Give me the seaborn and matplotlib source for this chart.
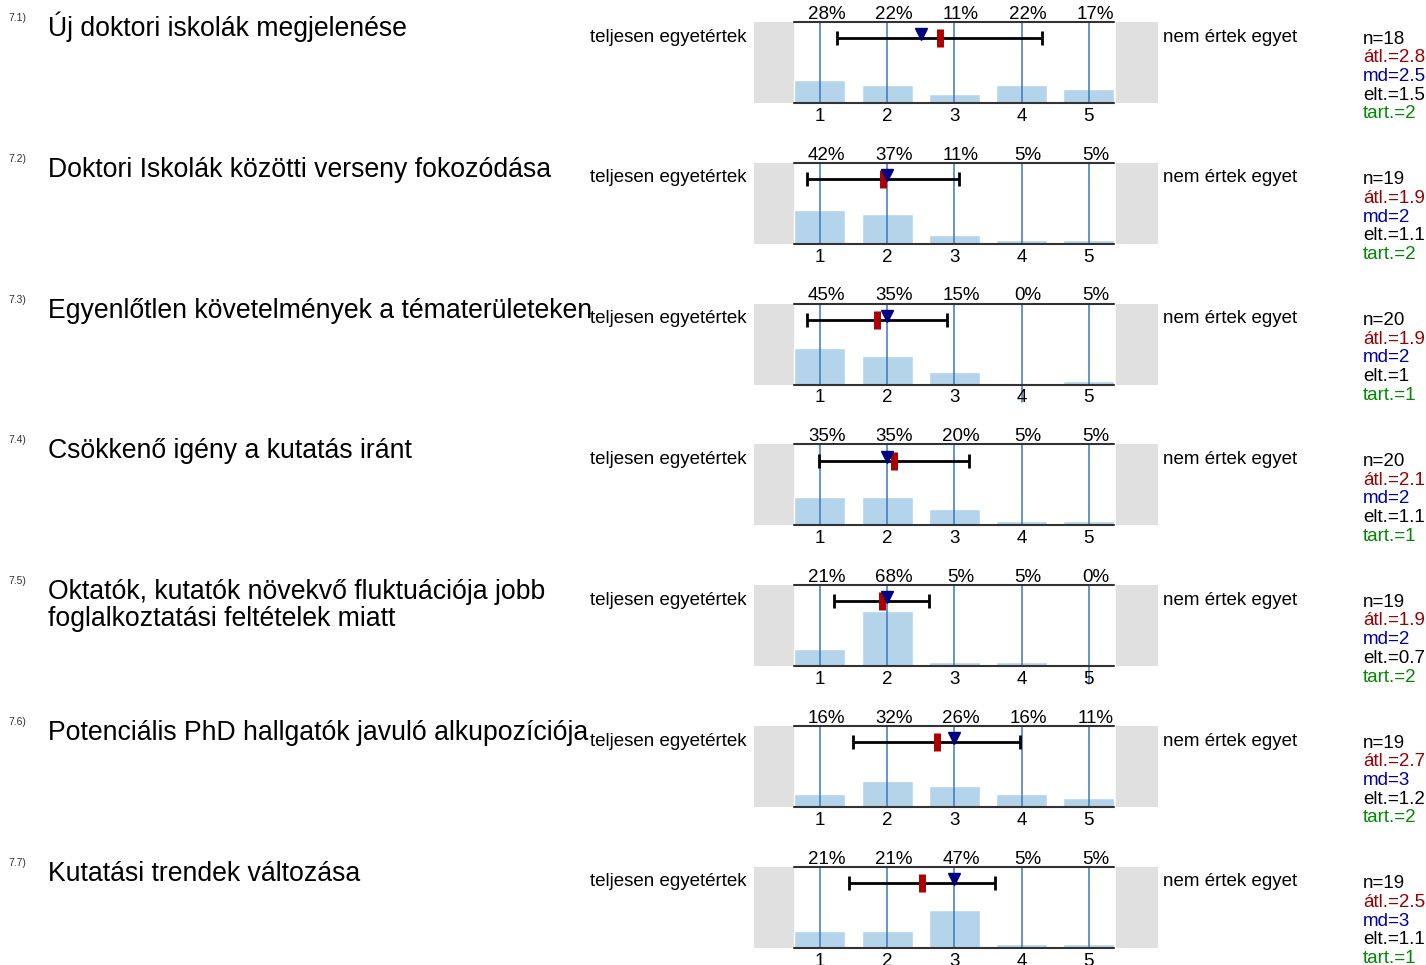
import numpy as np
import seaborn as sns
import matplotlib.pyplot as plt

sns.set_style("white")
plt.rcParams["font.family"] = ["Liberation Sans", "DejaVu Sans"]
plt.rcParams["text.color"] = "black"

# survey items
nums = ["7.1)", "7.2)", "7.3)", "7.4)", "7.5)", "7.6)", "7.7)"]
titles = [
    "Új doktori iskolák megjelenése",
    "Doktori Iskolák közötti verseny fokozódása",
    "Egyenlőtlen követelmények a tématerületeken",
    "Csökkenő igény a kutatás iránt",
    "Oktatók, kutatók növekvő fluktuációja jobb\nfoglalkoztatási feltételek miatt",
    "Potenciális PhD hallgatók javuló alkupozíciója",
    "Kutatási trendek változása",
]
scale = [1, 2, 3, 4, 5]
pcts = [
    [28, 22, 11, 22, 17],
    [42, 37, 11, 5, 5],
    [45, 35, 15, 0, 5],
    [35, 35, 20, 5, 5],
    [21, 68, 5, 5, 0],
    [16, 32, 26, 16, 11],
    [21, 21, 47, 5, 5],
]
means = [2.78, 1.94, 1.85, 2.1, 1.92, 2.74, 2.52]
medians = [2.5, 2, 2, 2, 2, 3, 3]
sds = [1.52, 1.13, 1.04, 1.12, 0.71, 1.24, 1.08]
n_txt = ["18", "19", "20", "20", "19", "19", "19"]
mean_txt = ["2.8", "1.9", "1.9", "2.1", "1.9", "2.7", "2.5"]
md_txt = ["2.5", "2", "2", "2", "2", "3", "3"]
sd_txt = ["1.5", "1.1", "1", "1.1", "0.7", "1.2", "1.1"]
mode_txt = ["2", "2", "1", "1", "2", "2", "1"]
left_lab = "teljesen egyetértek"
right_lab = "nem értek egyet"

W, H = 1426, 965
fig = plt.figure(figsize=(W / 100, H / 100), dpi=100)

bar_col = "#b4d4ec"
line_col = "#3a78b8"
fs = 13.5

for i in range(len(titles)):
    top = 22 + i * 140.8  # panel top in pixels
    ax = fig.add_axes([754 / W, 1 - (top + 81) / H, 404 / W, 81 / H])
    sns.barplot(x=scale, y=[p / 100 for p in pcts[i]], native_scale=True,
                width=0.76, color=bar_col, saturation=1, errorbar=None,
                ax=ax, zorder=2)
    ax.set_xlim(0.02, 6.03)
    ax.set_ylim(0, 1)
    ax.axis("off")
    ax.axvspan(0.02, 0.6, color="#e0e0e0", zorder=0)
    ax.axvspan(5.4, 6.03, color="#e0e0e0", zorder=0)
    for x, p in zip(scale, pcts[i]):
        y0 = -0.22 if p == 0 else 0
        ax.plot([x, x], [y0, 1], color=line_col, lw=1.1, zorder=3, clip_on=False)
        ax.text(x + 0.1, 1.04, f"{p}%", ha="center", va="baseline", fontsize=fs)
        ax.text(x, -0.165, str(x), ha="center", va="center", fontsize=fs)
    ax.plot([0.62, 5.38], [1, 1], color="#333333", lw=1.5, zorder=4, clip_on=False)
    ax.plot([0.62, 5.38], [0, 0], color="#333333", lw=1.5, zorder=4, clip_on=False)
    ax.errorbar(means[i], 0.8, xerr=sds[i], color="black", lw=2,
                capsize=5, capthick=2, zorder=5)
    ax.plot([means[i], means[i]], [0.69, 0.91], color="#aa0000", lw=5,
            solid_capstyle="butt", zorder=6)
    ax.plot(medians[i], 0.85, marker="v", color="#000080", markersize=9,
            linestyle="none", zorder=7)

    # texts around the panel
    base = 1 - (top + 14) / H
    fig.text(8 / W, 1 - (top - 4) / H, nums[i], fontsize=7.5, va="center",
             color="#333333")
    for k, line in enumerate(titles[i].split("\n")):
        fig.text(48 / W, base - k * 27 / H, line, fontsize=19.2, va="baseline")
    fig.text(590 / W, 1 - (top + 15) / H, left_lab, fontsize=fs, va="center")
    fig.text(1163 / W, 1 - (top + 15) / H, right_lab, fontsize=fs, va="center")
    stats = [("n=" + n_txt[i], "black"), ("átl.=" + mean_txt[i], "#990000"),
             ("md=" + md_txt[i], "#000099"), ("elt.=" + sd_txt[i], "black"),
             ("tart.=" + mode_txt[i], "#008800")]
    for k, (s, c) in enumerate(stats):
        fig.text(1363 / W, 1 - (top + 17 + k * 18.7) / H, s, fontsize=fs,
                 va="center", color=c)

fig.savefig("out.png", dpi=100)
